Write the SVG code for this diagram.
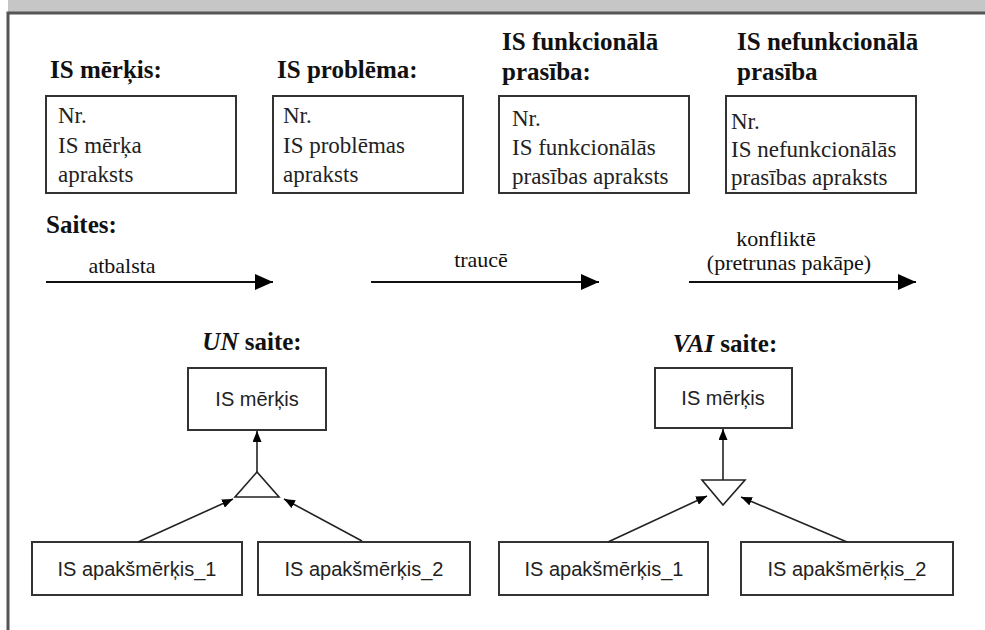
<svg xmlns="http://www.w3.org/2000/svg" width="985" height="630" viewBox="0 0 985 630">
<defs>
<style>
.ttl{font-family:"Liberation Serif","Times New Roman",serif;font-weight:bold;font-size:25px;fill:#111}
.bt{font-family:"Liberation Serif","Times New Roman",serif;font-size:23px;fill:#222}
.lb{font-family:"Liberation Serif","Times New Roman",serif;font-size:22px;fill:#111}
.sn{font-family:"Liberation Sans",Arial,sans-serif;font-size:20px;fill:#222}
.box{fill:#fff;stroke:#333;stroke-width:2}
.ln{stroke:#111;stroke-width:2;fill:none}
.ln2{stroke:#222;stroke-width:1.6;fill:none}
.tri{fill:#fff;stroke:#222;stroke-width:1.6}
</style>
<marker id="big" markerUnits="userSpaceOnUse" markerWidth="18" markerHeight="16" refX="18" refY="8" orient="auto"><path d="M0,0 L18,8 L0,16 z" fill="#000"/></marker>
<marker id="sm" markerUnits="userSpaceOnUse" markerWidth="11" markerHeight="9" refX="11" refY="4.5" orient="auto"><path d="M0,0 L11,4.5 L0,9 z" fill="#000"/></marker>
</defs>
<rect x="0" y="0" width="985" height="630" fill="#fff"/>
<rect x="8" y="0" width="977" height="12" fill="#c6c6c6"/>
<path d="M8,630 L8,13 L985,13" fill="none" stroke="#555" stroke-width="3"/>

<g id="goal-def">
<text class="ttl" x="50" y="78">IS mērķis:</text>
<rect class="box" x="46" y="96" width="190" height="97"/>
<text class="bt" x="58" y="123">Nr.</text>
<text class="bt" x="58" y="153">IS mērķa</text>
<text class="bt" x="58" y="182">apraksts</text>
</g>
<g id="problem-def">
<text class="ttl" x="277" y="78">IS problēma:</text>
<rect class="box" x="273" y="96" width="190" height="97"/>
<text class="bt" x="283" y="123">Nr.</text>
<text class="bt" x="283" y="153">IS problēmas</text>
<text class="bt" x="283" y="182">apraksts</text>
</g>
<g id="func-def">
<text class="ttl" x="502" y="50">IS funkcionālā</text>
<text class="ttl" x="502" y="80">prasība:</text>
<rect class="box" x="499" y="96" width="190" height="97"/>
<text class="bt" x="512" y="126">Nr.</text>
<text class="bt" x="512" y="155">IS funkcionālās</text>
<text class="bt" x="512" y="184">prasības apraksts</text>
</g>
<g id="nonfunc-def">
<text class="ttl" x="737" y="50">IS nefunkcionālā</text>
<text class="ttl" x="737" y="80">prasība</text>
<rect class="box" x="726" y="96" width="190" height="97"/>
<text class="bt" x="731" y="129">Nr.</text>
<text class="bt" x="731" y="157">IS nefunkcionālās</text>
<text class="bt" x="731" y="185">prasības apraksts</text>
</g>

<g id="links-legend">
<text class="ttl" x="46" y="233">Saites:</text>
<text class="lb" x="122" y="273" text-anchor="middle">atbalsta</text>
<text class="lb" x="481" y="267" text-anchor="middle">traucē</text>
<text class="lb" x="776" y="246" text-anchor="middle">konfliktē</text>
<text class="lb" x="789" y="270" text-anchor="middle">(pretrunas pakāpe)</text>
</g>

<g id="and-title"><text class="ttl" x="252" y="350" text-anchor="middle"><tspan font-style="italic">UN</tspan> saite:</text></g>
<g id="and-goal"><rect class="box" x="188" y="368" width="138" height="62"/><text class="sn" x="257" y="406" text-anchor="middle">IS mērķis</text></g>
<g id="and-node"><polygon class="tri" points="257,472 235,497 279,497"/></g>
<g id="and-sub1"><rect class="box" x="32" y="542" width="210" height="53"/><text class="sn" x="137" y="576" text-anchor="middle">IS apakšmērķis_1</text></g>
<g id="and-sub2"><rect class="box" x="258" y="542" width="212" height="53"/><text class="sn" x="364" y="576" text-anchor="middle">IS apakšmērķis_2</text></g>

<g id="or-title"><text class="ttl" x="725" y="352" text-anchor="middle"><tspan font-style="italic">VAI</tspan> saite:</text></g>
<g id="or-goal"><rect class="box" x="655" y="368" width="137" height="60"/><text class="sn" x="723" y="405" text-anchor="middle">IS mērķis</text></g>
<g id="or-node"><polygon class="tri" points="702,480 745,480 723,505"/></g>
<g id="or-sub1"><rect class="box" x="499" y="542" width="209" height="53"/><text class="sn" x="604" y="576" text-anchor="middle">IS apakšmērķis_1</text></g>
<g id="or-sub2"><rect class="box" x="741" y="542" width="212" height="53"/><text class="sn" x="847" y="576" text-anchor="middle">IS apakšmērķis_2</text></g>

<g id="connectors">
<line class="ln" x1="46" y1="282" x2="273" y2="282" marker-end="url(#big)"/>
<line class="ln" x1="371" y1="282" x2="599" y2="282" marker-end="url(#big)"/>
<line class="ln" x1="689" y1="282" x2="916" y2="282" marker-end="url(#big)"/>
<line class="ln2" x1="257" y1="472" x2="257" y2="431" marker-end="url(#sm)"/>
<line class="ln2" x1="138" y1="542" x2="233" y2="499" marker-end="url(#sm)"/>
<line class="ln2" x1="362" y1="541" x2="284" y2="499" marker-end="url(#sm)"/>
<line class="ln2" x1="723" y1="480" x2="723" y2="429" marker-end="url(#sm)"/>
<line class="ln2" x1="608" y1="542" x2="707" y2="496" marker-end="url(#sm)"/>
<line class="ln2" x1="847" y1="542" x2="741" y2="497" marker-end="url(#sm)"/>
</g>
</svg>
